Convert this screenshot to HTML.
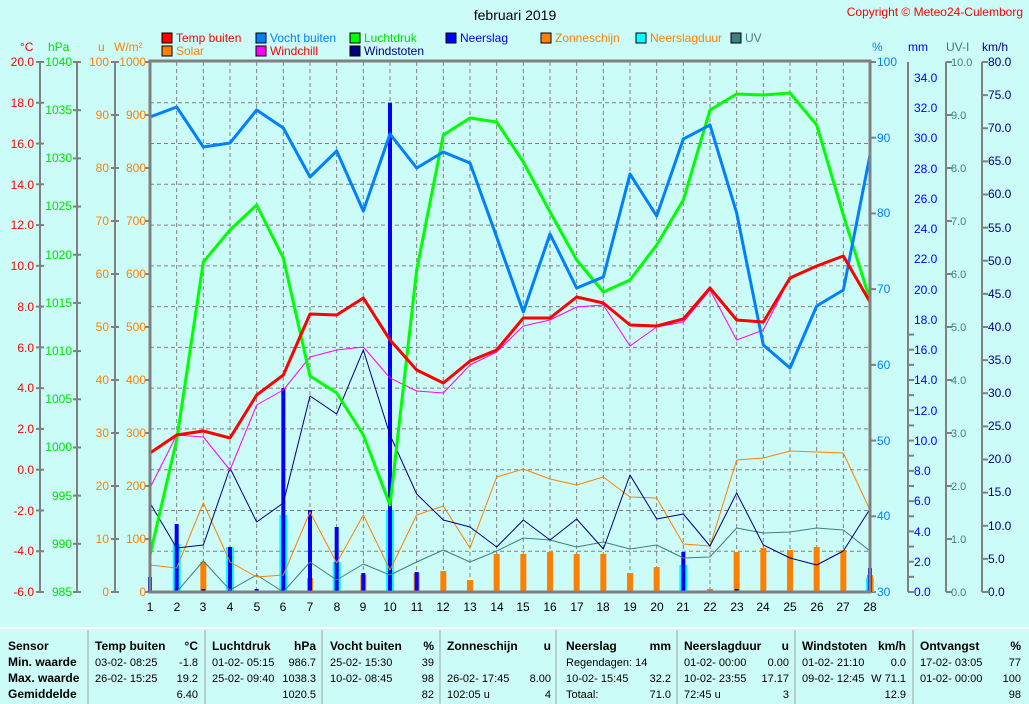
<!DOCTYPE html>
<html><head><meta charset="utf-8"><style>
body{margin:0;background:#ccfcf8;}
svg{display:block;font-family:"Liberation Sans",sans-serif;font-size:11px;}
.b{font-weight:bold}
</style></head><body>
<svg id="s" width="1029" height="704" xmlns="http://www.w3.org/2000/svg">
<rect width="1029" height="704" fill="#ccfcf8"/>
<g id="grid"></g>
<g id="axes" stroke="#808080" stroke-width="2" fill="none"></g>
<g id="bars"></g>
<g id="lines" fill="none" stroke-linejoin="round"></g>
<rect x="150" y="61" width="720" height="531" fill="none" stroke="#808080" stroke-width="3"/>
<text x="515" y="20" text-anchor="middle" font-size="14">februari 2019</text>
<text x="1023" y="16" text-anchor="end" fill="#ff0000" font-size="12">Copyright © Meteo24-Culemborg</text>
<!-- legend -->
<g stroke="#000" stroke-width="1">
<rect x="162" y="33" width="10" height="10" fill="#ff0000"/><rect x="256" y="33" width="10" height="10" fill="#0080ff"/>
<rect x="350" y="33" width="10" height="10" fill="#00ff00"/><rect x="446" y="33" width="10" height="10" fill="#0000ff"/>
<rect x="541" y="33" width="10" height="10" fill="#ff8000"/><rect x="636" y="33" width="10" height="10" fill="#00ffff"/>
<rect x="731" y="33" width="10" height="10" fill="#408080"/>
<rect x="162" y="46" width="10" height="10" fill="#ff8000"/><rect x="256" y="46" width="10" height="10" fill="#ff00ff"/>
<rect x="350" y="46" width="10" height="10" fill="#000080"/>
</g>
<g font-size="12">
<text x="176" y="42" fill="#ff0000">Temp buiten</text><text x="270" y="42" fill="#0080ff">Vocht buiten</text>
<text x="364" y="42" fill="#00e000">Luchtdruk</text><text x="460" y="42" fill="#0000ff">Neerslag</text>
<text x="555" y="42" fill="#ff8000">Zonneschijn</text><text x="650" y="42" fill="#ff8000">Neerslagduur</text>
<text x="745" y="42" fill="#408080">UV</text>
<text x="176" y="55" fill="#ff8000">Solar</text><text x="270" y="55" fill="#ff0000">Windchill</text>
<text x="364" y="55" fill="#000080">Windstoten</text>
</g>
<!-- unit headers -->
<g font-size="12">
<text x="20" y="51" fill="#ff0000">°C</text><text x="48" y="51" fill="#00e000">hPa</text>
<text x="98" y="51" fill="#ff8000">u</text><text x="114" y="51" fill="#ff8000">W/m²</text>
<text x="872" y="51" fill="#0080ff">%</text><text x="908" y="51" fill="#0000ff">mm</text>
<text x="946" y="51" fill="#408080">UV-I</text><text x="982" y="51" fill="#000080">km/h</text>
</g>
<g font-size="12">
<g fill="#ff0000" text-anchor="end">
<text x="34" y="66">20.0</text><text x="34" y="107">18.0</text><text x="34" y="148">16.0</text><text x="34" y="189">14.0</text><text x="34" y="229">12.0</text><text x="34" y="270">10.0</text><text x="34" y="311">8.0</text><text x="34" y="352">6.0</text><text x="34" y="392">4.0</text><text x="34" y="433">2.0</text><text x="34" y="474">0.0</text><text x="34" y="515">-2.0</text><text x="34" y="555">-4.0</text><text x="34" y="596">-6.0</text>
</g>
<g fill="#00e000" text-anchor="end">
<text x="72" y="66">1040</text><text x="72" y="114">1035</text><text x="72" y="162">1030</text><text x="72" y="210">1025</text><text x="72" y="259">1020</text><text x="72" y="307">1015</text><text x="72" y="355">1010</text><text x="72" y="403">1005</text><text x="72" y="451">1000</text><text x="72" y="500">995</text><text x="72" y="548">990</text><text x="72" y="596">985</text>
</g>
<g fill="#ff8000" text-anchor="end">
<text x="109" y="66">100</text><text x="109" y="119">90</text><text x="109" y="172">80</text><text x="109" y="225">70</text><text x="109" y="278">60</text><text x="109" y="331">50</text><text x="109" y="384">40</text><text x="109" y="437">30</text><text x="109" y="490">20</text><text x="109" y="543">10</text><text x="109" y="596">0</text>
<text x="146" y="66">1000</text><text x="146" y="119">900</text><text x="146" y="172">800</text><text x="146" y="225">700</text><text x="146" y="278">600</text><text x="146" y="331">500</text><text x="146" y="384">400</text><text x="146" y="437">300</text><text x="146" y="490">200</text><text x="146" y="543">100</text><text x="146" y="596">0</text>
</g>
<g fill="#0080ff">
<text x="877" y="66">100</text><text x="877" y="142">90</text><text x="877" y="217">80</text><text x="877" y="293">70</text><text x="877" y="369">60</text><text x="877" y="445">50</text><text x="877" y="520">40</text><text x="877" y="596">30</text>
</g>
<g fill="#0000ff">
<text x="914" y="82">34.0</text><text x="914" y="112">32.0</text><text x="914" y="142">30.0</text><text x="914" y="173">28.0</text><text x="914" y="203">26.0</text><text x="914" y="233">24.0</text><text x="914" y="263">22.0</text><text x="914" y="294">20.0</text><text x="914" y="324">18.0</text><text x="914" y="354">16.0</text><text x="914" y="384">14.0</text><text x="914" y="415">12.0</text><text x="914" y="445">10.0</text><text x="914" y="475">8.0</text><text x="914" y="505">6.0</text><text x="914" y="536">4.0</text><text x="914" y="566">2.0</text><text x="914" y="596">0.0</text>
</g>
<g fill="#408080" font-size="11">
<text x="951" y="66">10.0</text><text x="951" y="119">9.0</text><text x="951" y="172">8.0</text><text x="951" y="225">7.0</text><text x="951" y="278">6.0</text><text x="951" y="331">5.0</text><text x="951" y="384">4.0</text><text x="951" y="437">3.0</text><text x="951" y="490">2.0</text><text x="951" y="543">1.0</text><text x="951" y="596">0.0</text>
</g>
<g fill="#000080">
<text x="988" y="66">80.0</text><text x="988" y="99">75.0</text><text x="988" y="132">70.0</text><text x="988" y="165">65.0</text><text x="988" y="198">60.0</text><text x="988" y="232">55.0</text><text x="988" y="265">50.0</text><text x="988" y="298">45.0</text><text x="988" y="331">40.0</text><text x="988" y="364">35.0</text><text x="988" y="397">30.0</text><text x="988" y="430">25.0</text><text x="988" y="463">20.0</text><text x="988" y="496">15.0</text><text x="988" y="530">10.0</text><text x="988" y="563">5.0</text><text x="988" y="596">0.0</text>
</g>
<g text-anchor="middle">
<text x="150" y="611">1</text><text x="177" y="611">2</text><text x="203" y="611">3</text><text x="230" y="611">4</text><text x="257" y="611">5</text><text x="283" y="611">6</text><text x="310" y="611">7</text><text x="337" y="611">8</text><text x="363" y="611">9</text><text x="390" y="611">10</text><text x="417" y="611">11</text><text x="443" y="611">12</text><text x="470" y="611">13</text><text x="497" y="611">14</text><text x="523" y="611">15</text><text x="550" y="611">16</text><text x="577" y="611">17</text><text x="603" y="611">18</text><text x="630" y="611">19</text><text x="657" y="611">20</text><text x="683" y="611">21</text><text x="710" y="611">22</text><text x="737" y="611">23</text><text x="763" y="611">24</text><text x="790" y="611">25</text><text x="817" y="611">26</text><text x="843" y="611">27</text><text x="870" y="611">28</text>
</g>
</g>
<!-- table -->
<line x1="0" y1="628" x2="1029" y2="628" stroke="#fff" stroke-width="2"/>
<g stroke="#a0a0a0" stroke-width="1">
<line x1="88" y1="630" x2="88" y2="704"/><line x1="205" y1="630" x2="205" y2="704"/><line x1="322" y1="630" x2="322" y2="704"/><line x1="440" y1="630" x2="440" y2="704"/><line x1="556" y1="630" x2="556" y2="704"/><line x1="677" y1="630" x2="677" y2="704"/><line x1="795" y1="630" x2="795" y2="704"/><line x1="913" y1="630" x2="913" y2="704"/>
</g>
<g class="b" font-size="12">
<text x="8" y="650">Sensor</text><text x="8" y="666">Min. waarde</text><text x="8" y="682">Max. waarde</text><text x="8" y="698">Gemiddelde</text>
<text x="95" y="650">Temp buiten</text><text x="198" y="650" text-anchor="end">°C</text>
<text x="212" y="650">Luchtdruk</text><text x="316" y="650" text-anchor="end">hPa</text>
<text x="330" y="650">Vocht buiten</text><text x="434" y="650" text-anchor="end">%</text>
<text x="447" y="650">Zonneschijn</text><text x="551" y="650" text-anchor="end">u</text>
<text x="566" y="650">Neerslag</text><text x="671" y="650" text-anchor="end">mm</text>
<text x="684" y="650">Neerslagduur</text><text x="789" y="650" text-anchor="end">u</text>
<text x="802" y="650">Windstoten</text><text x="906" y="650" text-anchor="end">km/h</text>
<text x="920" y="650">Ontvangst</text><text x="1021" y="650" text-anchor="end">%</text>
</g>
<text x="95" y="666">03-02-  08:25</text><text x="95" y="682">26-02-  15:25</text>
<g text-anchor="end"><text x="198" y="666">-1.8</text><text x="198" y="682">19.2</text><text x="198" y="698">6.40</text>
<text x="316" y="666">986.7</text><text x="316" y="682">1038.3</text><text x="316" y="698">1020.5</text>
<text x="434" y="666">39</text><text x="434" y="682">98</text><text x="434" y="698">82</text>
<text x="551" y="682">8.00</text><text x="551" y="698">4</text>
<text x="671" y="682">32.2</text><text x="671" y="698">71.0</text>
<text x="789" y="666">0.00</text><text x="789" y="682">17.17</text><text x="789" y="698">3</text>
<text x="906" y="666">0.0</text><text x="906" y="682">W 71.1</text><text x="906" y="698">12.9</text>
<text x="1021" y="666">77</text><text x="1021" y="682">100</text><text x="1021" y="698">98</text></g>
<text x="212" y="666">01-02-  05:15</text><text x="212" y="682">25-02-  09:40</text>
<text x="330" y="666">25-02-  15:30</text><text x="330" y="682">10-02-  08:45</text>
<text x="447" y="682">26-02-  17:45</text><text x="447" y="698">102:05 u</text>
<text x="566" y="666">Regendagen: 14</text><text x="566" y="682">10-02-  15:45</text><text x="566" y="698">Totaal:</text>
<text x="684" y="666">01-02-  00:00</text><text x="684" y="682">10-02-  23:55</text><text x="684" y="698">72:45 u</text>
<text x="802" y="666">01-02-  21:10</text><text x="802" y="682">09-02-  12:45</text>
<text x="920" y="666">17-02-  03:05</text><text x="920" y="682">01-02-  00:00</text>
</svg>
<script>
var NS="http://www.w3.org/2000/svg";
function el(p,t,a){var e=document.createElementNS(NS,t);for(var k in a)e.setAttribute(k,a[k]);document.getElementById(p).appendChild(e);return e;}
function X(d){return 150+(d-1)*720/27;}
for(var d=2;d<28;d++)el("grid","line",{x1:X(d),y1:62,x2:X(d),y2:592,stroke:"#808080","stroke-dasharray":"4,3"});
for(var i=1;i<13;i++){var y=62+i*530/13;el("grid","line",{x1:150,y1:y,x2:870,y2:y,stroke:"#808080","stroke-dasharray":"4,3"});}
el("axes","line",{x1:40,y1:62,x2:40,y2:592});el("axes","line",{x1:77,y1:62,x2:77,y2:592});el("axes","line",{x1:115,y1:62,x2:115,y2:592});
for(var i=0;i<14;i++){var y=592-i*530/13;el("axes","line",{x1:36,y1:y,x2:44,y2:y});}
for(var i=0;i<12;i++){var y=592-i*530/11;el("axes","line",{x1:73,y1:y,x2:81,y2:y});}
for(var i=0;i<11;i++){var y=592-i*53;el("axes","line",{x1:111,y1:y,x2:119,y2:y});el("axes","line",{x1:145,y1:y,x2:150,y2:y});}
for(var i=0;i<8;i++){var y=592-i*530/7;el("axes","line",{x1:870,y1:y,x2:876,y2:y});}
el("axes","line",{x1:908,y1:62,x2:908,y2:592});for(var i=0;i<18;i++){var y=592-i*530/35;el("axes","line",{x1:908,y1:y,x2:914,y2:y});}
el("axes","line",{x1:946,y1:62,x2:946,y2:592});for(var i=0;i<11;i++){var y=592-i*53;el("axes","line",{x1:946,y1:y,x2:952,y2:y});}
el("axes","line",{x1:982,y1:62,x2:982,y2:592});for(var i=0;i<17;i++){var y=592-i*530/16;el("axes","line",{x1:982,y1:y,x2:988,y2:y});}
function bar(d,top,w,c){el("bars","rect",{x:X(d)-w/2,y:top,width:w,height:592-top,fill:c});}
var dur={2:544,4:547,6:515,8:562,10:510,21:565,28:578};
for(var k in dur)bar(+k,dur[k],8,"#00ffff");
var sun={3:562,7:578,9:575,11:573,12:571,13:580,14:554,15:554,16:552,17:554,18:554,19:573,20:567,22:589,23:552,24:548,25:550,26:547,27:550,28:575};
for(var k in sun)bar(+k,sun[k],6,"#ff8000");
var rain={1:577,2:524,3:589,4:547,5:589,6:388,7:510,8:527,9:573,10:103,11:572,21:552,23:589,28:568};
for(var k in rain)bar(+k,rain[k],4,"#0000ff");
function line(a,c,w){var p=a.map(function(y,i){return X(i+1)+","+y}).join(" ");el("lines","polyline",{points:p,stroke:c,"stroke-width":w});}
line([592,592,561,590,575,592,562,580,564,575,562,550,562,551,538,540,547,542,549,545,558,557,528,533,532,528,530,551],"#408080",1);
line([565,568,503,562,577,575,512,563,515,570,515,506,548,477,469,479,485,477,497,498,544,546,460,458,451,452,453,510],"#ff8000",1);
line([503,548,545,468,522,503,396,414,350,435,494,520,527,547,520,540,519,549,475,519,514,546,493,545,558,565,551,509],"#000080",1);
line([488,435,437,470,405,390,357,350,347,378,391,393,365,352,326,320,307,305,346,327,322,290,340,330,278,266,256,302],"#ff00ff",1);
line([555,440,262,230,205,258,376,393,435,505,270,135,118,122,162,212,260,292,280,245,200,110,94,95,93,125,215,300],"#00ff00",3);
line([117,107,147,143,110,128,177,151,211,134,168,152,163,237,312,234,288,277,174,216,139,125,213,345,368,306,290,155],"#0080ff",3);
line([453,435,431,438,395,375,314,315,298,340,370,383,361,350,318,318,297,303,325,326,319,288,320,322,278,266,256,302],"#ff0000",3);
</script>
</body></html>
